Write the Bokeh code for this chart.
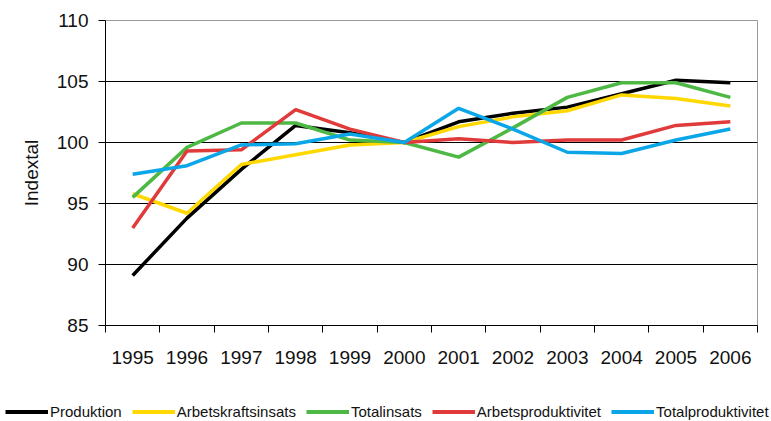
from bokeh.plotting import figure
from bokeh.layouts import column
from bokeh.models import Range1d, FixedTicker, Legend, LegendItem
from bokeh.embed import file_html
from bokeh.resources import INLINE

years = ["1995", "1996", "1997", "1998", "1999", "2000",
         "2001", "2002", "2003", "2004", "2005", "2006"]
produktion = [89.1, 93.8, 97.8, 101.4, 100.8, 100.0, 101.7, 102.4, 102.9, 104.0, 105.1, 104.9]
arbetskraftsinsats = [95.8, 94.2, 98.2, 99.0, 99.8, 100.0, 101.3, 102.1, 102.6, 103.9, 103.6, 103.0]
totalinsats = [95.5, 99.6, 101.6, 101.6, 100.2, 100.0, 98.8, 101.2, 103.7, 104.9, 104.9, 103.7]
arbetsproduktivitet = [93.0, 99.3, 99.4, 102.7, 101.1, 100.0, 100.3, 100.0, 100.2, 100.2, 101.4, 101.7]
totalproduktivitet = [97.4, 98.1, 99.8, 99.9, 100.7, 100.0, 102.8, 101.1, 99.2, 99.1, 100.2, 101.1]
y_ticks = [85, 90, 95, 100, 105, 110]

series = [
    ("Produktion", produktion, "#000000"),
    ("Arbetskraftsinsats", arbetskraftsinsats, "#FFD800"),
    ("Totalinsats", totalinsats, "#4DB843"),
    ("Arbetsproduktivitet", arbetsproduktivitet, "#E03A3A"),
    ("Totalproduktivitet", totalproduktivitet, "#0AA6E8"),
]

n = len(years)
centers = [i + 0.5 for i in range(n)]
bounds = list(range(n + 1))

FONT = "Liberation Sans"

p = figure(width=763, height=384, x_range=Range1d(0, n), y_range=Range1d(y_ticks[0], y_ticks[-1]),
           output_backend="svg", toolbar_location=None,
           min_border_left=105, min_border_right=6, min_border_top=20, min_border_bottom=59)
p.frame_align = False
p.background_fill_color = "white"
p.border_fill_color = "white"
p.outline_line_color = "#9a9a9a"
p.outline_line_width = 1

# x axis: labels at centers, tick marks at category boundaries
xa = p.xaxis[0]
xa.ticker = FixedTicker(ticks=centers, minor_ticks=bounds)
xa.major_label_overrides = {c: y for c, y in zip(centers, years)}
xa.major_tick_out = 0
xa.major_tick_in = 0
xa.minor_tick_out = 7
xa.minor_tick_in = 0
xa.minor_tick_line_color = "black"
xa.axis_line_color = "black"
xa.major_label_standoff = 18
xa.major_label_text_font = FONT
xa.major_label_text_font_size = "19px"
xa.major_label_text_color = "#111111"

ya = p.yaxis[0]
ya.ticker = FixedTicker(ticks=y_ticks)
ya.minor_tick_line_color = None
ya.major_tick_out = 7
ya.major_tick_in = 0
ya.axis_line_color = "black"
ya.major_tick_line_color = "black"
ya.major_label_standoff = 10
ya.major_label_text_font = FONT
ya.major_label_text_font_size = "19px"
ya.major_label_text_color = "#111111"
ya.axis_label = "Indextal"
ya.axis_label_text_font = FONT
ya.axis_label_text_font_size = "19px"
ya.axis_label_text_font_style = "normal"
ya.axis_label_text_color = "#111111"
ya.axis_label_standoff = 12

p.xgrid.grid_line_color = None
p.ygrid.grid_line_color = "black"
p.ygrid.grid_line_width = 1

for name, vals, color in series:
    p.line(centers, vals, line_color=color, line_width=3.5)

# legend strip underneath, as its own small figure (series lines lie outside its range)
lg = figure(width=771, height=37, x_range=Range1d(0, n), y_range=Range1d(0, 1),
            output_backend="svg", toolbar_location=None,
            x_axis_location=None, y_axis_location=None,
            min_border_left=0, min_border_right=0, min_border_top=0, min_border_bottom=0)
lg.frame_align = False
lg.outline_line_color = None
lg.grid.visible = False
items = []
for name, vals, color in series:
    r = lg.line(centers, vals, line_color=color, line_width=4)
    items.append(LegendItem(label=name, renderers=[r]))

legend = Legend(items=items, orientation="horizontal", location=(5, 1),
                label_text_font=FONT, label_text_font_size="15px",
                label_text_color="#111111",
                glyph_width=43, glyph_height=15, label_standoff=2, spacing=10,
                padding=0, margin=0, border_line_color=None,
                background_fill_alpha=0)
lg.add_layout(legend)

layout = column(p, lg, spacing=0)
open("out.html", "w").write(file_html(layout, INLINE))
